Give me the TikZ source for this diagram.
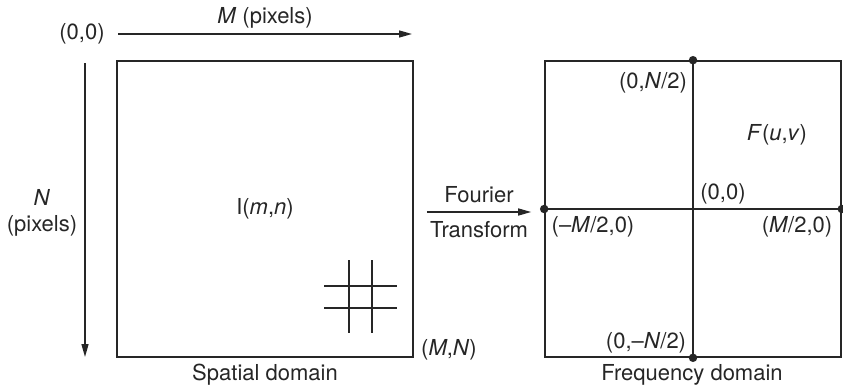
\documentclass[tikz,border=0pt]{standalone}
\usepackage{fontspec}
\setmainfont{TeX Gyre Heros}
\usetikzlibrary{arrows.meta, positioning}

\begin{document}
\begin{tikzpicture}[
  x=1pt, y=-1pt,
  color=black!85,
  font=\fontsize{22}{26}\selectfont,
  >={Triangle[length=13pt,width=7pt]},
  line width=1.4pt,
  panel/.style={draw, line width=1.6pt, minimum width=296pt,
                minimum height=296pt, inner sep=0pt},
  dot/.style={circle, fill, inner sep=0pt, minimum size=8.5pt},
  txt/.style={inner sep=0pt},
]
  \useasboundingbox (0,0) rectangle (843,388);

  % --- spatial domain ---------------------------------------------
  \node[panel] (spat) at (265,209) {};
  \node[txt] (img) at (265,209) {I(\textit{m},\textit{n})};
  \node[txt] (orig) at (82,34) {(0,0)};
  \node[txt] (mlab) at (265,18) {\textit{M} (pixels)};
  \node[txt, align=center] (nlab) at (42,213) {\textit{N}\\(pixels)};
  \node[txt] (mn) at (449,350) {(\textit{M},\textit{N})};
  \node[txt] (spatcap) at (265,375) {Spatial domain};

  \coordinate (mtail) at (118,34);
  \coordinate (mhead) at (412,34);
  \coordinate (ntail) at (85,63);
  \coordinate (nhead) at (85,357);
  \draw[->] (mtail) -- (mhead);
  \draw[->] (ntail) -- (nhead);

  % pixel grid
  \foreach \x in {349,372} \draw (\x,260) -- (\x,333);
  \foreach \y in {286,308} \draw (324,\y) -- (397,\y);

  % --- frequency domain -------------------------------------------
  \node[panel] (freq) at (693,209) {};
  \draw (freq.north) -- (freq.south);
  \draw (freq.west) -- (freq.east);
  \node[dot] (ptop) at (freq.north) {};
  \node[dot] (pbot) at (freq.south) {};
  \node[dot] (pleft) at (freq.west) {};
  \node[dot] (pright) at (freq.east) {};

  \node[txt] (ntop) at (653,83) {(0,\textit{N}/2)};
  \node[txt] (fuv) at (777,135) {\textit{F}(\textit{u},\textit{v})};
  \node[txt] (ctr) at (723,194) {(0,0)};
  \node[txt] (mleft) at (593,227) {(\textendash\textit{M}/2,0)};
  \node[txt] (mright) at (797,227) {(\textit{M}/2,0)};
  \node[txt] (nbot) at (646,343) {(0,\textendash\textit{N}/2)};
  \node[txt] (freqcap) at (692,375) {Frequency domain};

  % --- transform ----------------------------------------------------
  \draw[->, shorten <=13pt, shorten >=13pt] ([yshift=-3pt]spat.east) -- ([yshift=-3pt]freq.west);
  \node[txt] (four) at (479,195) {Fourier};
  \node[txt] (trans) at (479,230) {Transform};
\end{tikzpicture}
\end{document}
